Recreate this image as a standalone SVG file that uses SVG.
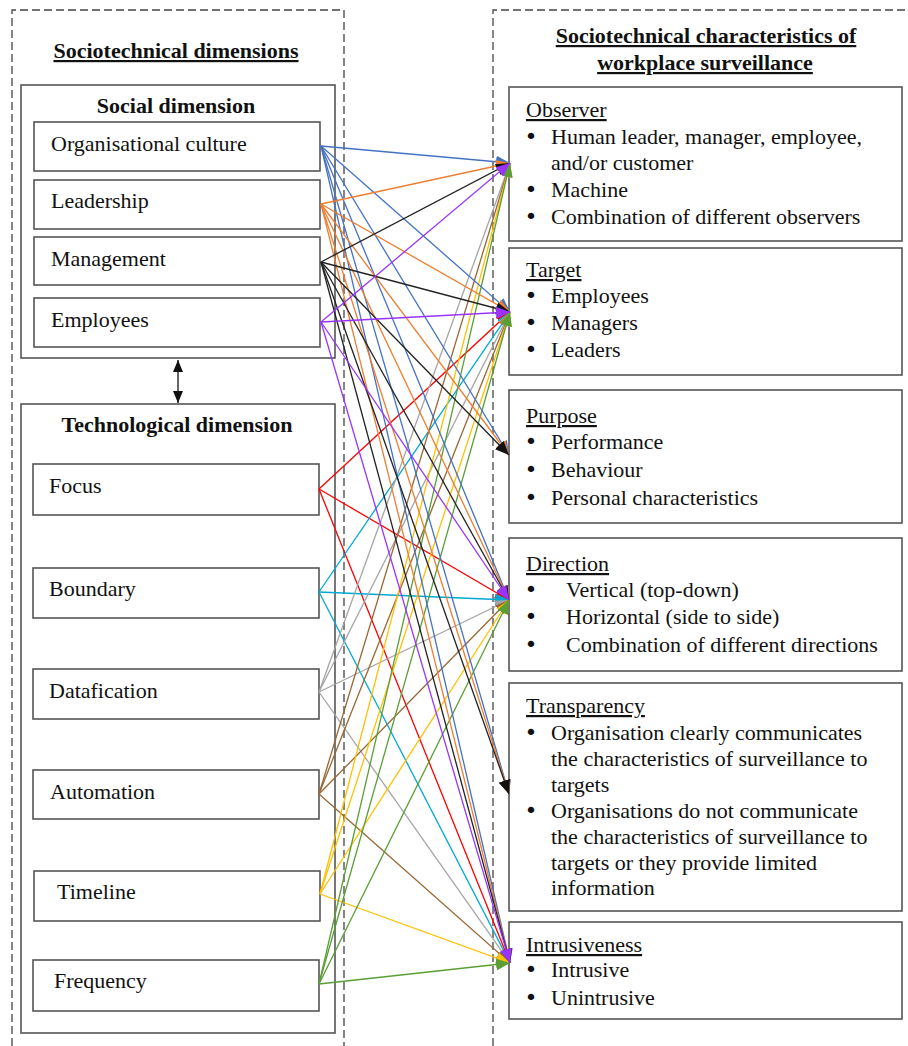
<svg xmlns="http://www.w3.org/2000/svg" width="908" height="1046" viewBox="0 0 908 1046">
<style>
text{font-family:"Liberation Serif","Times New Roman",serif;font-size:22px;fill:#111}
.b{font-weight:bold}
.u{text-decoration:underline}
.c{text-anchor:middle}
.bl{text-anchor:middle;font-family:"DejaVu Sans",sans-serif;font-size:22px}
.dash{fill:none;stroke:#444;stroke-width:1.3;stroke-dasharray:8 4}
.box{fill:#fff;stroke:#555;stroke-width:1.6}
.cn line{stroke-width:1.3;fill:none}
</style>
<defs>
<marker id="m-k" markerUnits="userSpaceOnUse" markerWidth="15" markerHeight="13" refX="14" refY="6" orient="auto"><path d="M0,0 L14,6 L0,12 z" fill="#111"/></marker>
<marker id="m-bl" markerUnits="userSpaceOnUse" markerWidth="15" markerHeight="13" refX="14" refY="6" orient="auto"><path d="M0,0 L14,6 L0,12 z" fill="#4472C4"/></marker>
<marker id="m-or" markerUnits="userSpaceOnUse" markerWidth="15" markerHeight="13" refX="14" refY="6" orient="auto"><path d="M0,0 L14,6 L0,12 z" fill="#ED7D31"/></marker>
<marker id="m-pu" markerUnits="userSpaceOnUse" markerWidth="15" markerHeight="13" refX="14" refY="6" orient="auto"><path d="M0,0 L14,6 L0,12 z" fill="#9933FF"/></marker>
<marker id="m-re" markerUnits="userSpaceOnUse" markerWidth="15" markerHeight="13" refX="14" refY="6" orient="auto"><path d="M0,0 L14,6 L0,12 z" fill="#FF0000"/></marker>
<marker id="m-cy" markerUnits="userSpaceOnUse" markerWidth="15" markerHeight="13" refX="14" refY="6" orient="auto"><path d="M0,0 L14,6 L0,12 z" fill="#00A9D4"/></marker>
<marker id="m-gr" markerUnits="userSpaceOnUse" markerWidth="15" markerHeight="13" refX="14" refY="6" orient="auto"><path d="M0,0 L14,6 L0,12 z" fill="#A5A5A5"/></marker>
<marker id="m-br" markerUnits="userSpaceOnUse" markerWidth="15" markerHeight="13" refX="14" refY="6" orient="auto"><path d="M0,0 L14,6 L0,12 z" fill="#996633"/></marker>
<marker id="m-ye" markerUnits="userSpaceOnUse" markerWidth="15" markerHeight="13" refX="14" refY="6" orient="auto"><path d="M0,0 L14,6 L0,12 z" fill="#FFC000"/></marker>
<marker id="m-gn" markerUnits="userSpaceOnUse" markerWidth="15" markerHeight="13" refX="14" refY="6" orient="auto"><path d="M0,0 L14,6 L0,12 z" fill="#5A9E35"/></marker>
<marker id="m-dk" markerUnits="userSpaceOnUse" markerWidth="13" markerHeight="11" refX="12" refY="5" orient="auto-start-reverse"><path d="M0,0 L12,5 L0,10 z" fill="#111"/></marker>
</defs>
<rect width="908" height="1046" fill="#fff"/>

<path class="dash" d="M12,1046 V10 H344 V1046"/>
<path class="dash" d="M493,1046 V10 H908"/>

<text class="b u c" x="176" y="58">Sociotechnical dimensions</text>
<text class="b u c" x="706" y="43">Sociotechnical characteristics of</text>
<text class="b u c" x="705" y="70">workplace surveillance</text>

<g id="social">
<rect class="box" x="21" y="85" width="314" height="273"/>
<text class="b c" x="176" y="113">Social dimension</text>
</g>
<g id="orgculture"><rect class="box" x="34" y="122" width="286" height="49"/><text x="51" y="151">Organisational culture</text></g>
<g id="leadership"><rect class="box" x="34" y="180" width="286" height="49"/><text x="51" y="208">Leadership</text></g>
<g id="management"><rect class="box" x="34" y="237" width="286" height="48"/><text x="51" y="266">Management</text></g>
<g id="employees"><rect class="box" x="34" y="298" width="286" height="49"/><text x="51" y="327">Employees</text></g>

<g id="technological">
<rect class="box" x="21" y="404" width="314" height="629"/>
<text class="b c" x="177" y="432">Technological dimension</text>
</g>
<g id="focus"><rect class="box" x="33" y="464" width="286" height="51"/><text x="49" y="493">Focus</text></g>
<g id="boundary"><rect class="box" x="33" y="568" width="286" height="50"/><text x="49" y="596">Boundary</text></g>
<g id="datafication"><rect class="box" x="33" y="669" width="286" height="50"/><text x="49" y="698">Datafication</text></g>
<g id="automation"><rect class="box" x="33" y="770" width="286" height="49"/><text x="50" y="799">Automation</text></g>
<g id="timeline"><rect class="box" x="34" y="871" width="286" height="50"/><text x="57" y="899">Timeline</text></g>
<g id="frequency"><rect class="box" x="33" y="960" width="286" height="51"/><text x="54" y="988">Frequency</text></g>

<g id="observer"><rect class="box" x="509" y="87" width="393" height="154"/>
<text class="u" x="526" y="117">Observer</text>
<text class="bl" x="531" y="144">•</text><text x="551" y="144">Human leader, manager, employee,</text>
<text x="551" y="170">and/or customer</text>
<text class="bl" x="531" y="197">•</text><text x="551" y="197">Machine</text>
<text class="bl" x="531" y="224">•</text><text x="551" y="224">Combination of different observers</text>
</g>
<g id="target"><rect class="box" x="509" y="248" width="393" height="127"/>
<text class="u" x="526" y="277">Target</text>
<text class="bl" x="531" y="303">•</text><text x="551" y="303">Employees</text>
<text class="bl" x="531" y="330">•</text><text x="551" y="330">Managers</text>
<text class="bl" x="531" y="357">•</text><text x="551" y="357">Leaders</text>
</g>
<g id="purpose"><rect class="box" x="509" y="390" width="393" height="133"/>
<text class="u" x="526" y="423">Purpose</text>
<text class="bl" x="531" y="449">•</text><text x="551" y="449">Performance</text>
<text class="bl" x="531" y="477">•</text><text x="551" y="477">Behaviour</text>
<text class="bl" x="531" y="505">•</text><text x="551" y="505">Personal characteristics</text>
</g>
<g id="direction"><rect class="box" x="509" y="538" width="393" height="133"/>
<text class="u" x="526" y="571">Direction</text>
<text class="bl" x="531" y="597">•</text><text x="566" y="597">Vertical (top-down)</text>
<text class="bl" x="531" y="624">•</text><text x="566" y="624">Horizontal (side to side)</text>
<text class="bl" x="531" y="652">•</text><text x="566" y="652">Combination of different directions</text>
</g>
<g id="transparency"><rect class="box" x="509" y="683" width="393" height="228"/>
<text class="u" x="526" y="713">Transparency</text>
<text class="bl" x="531" y="740">•</text><text x="551" y="740">Organisation clearly communicates</text>
<text x="551" y="766">the characteristics of surveillance to</text>
<text x="551" y="792">targets</text>
<text class="bl" x="531" y="818">•</text><text x="551" y="818">Organisations do not communicate</text>
<text x="551" y="844">the characteristics of surveillance to</text>
<text x="551" y="870">targets or they provide limited</text>
<text x="551" y="895">information</text>
</g>
<g id="intrusiveness"><rect class="box" x="509" y="922" width="393" height="97"/>
<text class="u" x="526" y="952">Intrusiveness</text>
<text class="bl" x="531" y="977">•</text><text x="551" y="977">Intrusive</text>
<text class="bl" x="531" y="1005">•</text><text x="551" y="1005">Unintrusive</text>
</g>

<g id="connectors" class="cn">
<line x1="178" y1="360" x2="178" y2="403" stroke="#111" stroke-width="1.6" marker-start="url(#m-dk)" marker-end="url(#m-dk)"/>
<g stroke="#FF0000">
<line x1="319" y1="489" x2="510" y2="312" marker-end="url(#m-re)"/>
<line x1="319" y1="489" x2="509" y2="600" marker-end="url(#m-re)"/>
<line x1="319" y1="489" x2="510" y2="963" marker-end="url(#m-re)"/>
</g>
<g stroke="#00A9D4">
<line x1="319" y1="592" x2="510" y2="312" marker-end="url(#m-cy)"/>
<line x1="319" y1="592" x2="509" y2="600" marker-end="url(#m-cy)"/>
<line x1="319" y1="592" x2="510" y2="963" marker-end="url(#m-cy)"/>
</g>
<g stroke="#A5A5A5">
<line x1="319" y1="692" x2="510" y2="163" marker-end="url(#m-gr)"/>
<line x1="319" y1="692" x2="510" y2="312" marker-end="url(#m-gr)"/>
<line x1="319" y1="692" x2="509" y2="600" marker-end="url(#m-gr)"/>
<line x1="319" y1="692" x2="510" y2="963" marker-end="url(#m-gr)"/>
</g>
<g stroke="#996633">
<line x1="319" y1="794" x2="510" y2="163" marker-end="url(#m-br)"/>
<line x1="319" y1="794" x2="510" y2="312" marker-end="url(#m-br)"/>
<line x1="319" y1="794" x2="509" y2="600" marker-end="url(#m-br)"/>
<line x1="319" y1="794" x2="510" y2="963" marker-end="url(#m-br)"/>
</g>
<g stroke="#FFC000">
<line x1="320" y1="894" x2="510" y2="163" marker-end="url(#m-ye)"/>
<line x1="320" y1="894" x2="510" y2="312" marker-end="url(#m-ye)"/>
<line x1="320" y1="894" x2="509" y2="600" marker-end="url(#m-ye)"/>
<line x1="320" y1="894" x2="510" y2="963" marker-end="url(#m-ye)"/>
</g>
<g stroke="#5A9E35">
<line x1="319" y1="984" x2="510" y2="163" marker-end="url(#m-gn)"/>
<line x1="319" y1="984" x2="510" y2="312" marker-end="url(#m-gn)"/>
<line x1="319" y1="984" x2="509" y2="600" marker-end="url(#m-gn)"/>
<line x1="319" y1="984" x2="510" y2="963" marker-end="url(#m-gn)"/>
</g>
<g stroke="#4472C4">
<line x1="321" y1="146" x2="510" y2="163" marker-end="url(#m-bl)"/>
<line x1="321" y1="146" x2="510" y2="312" marker-end="url(#m-bl)"/>
<line x1="321" y1="146" x2="509" y2="455" marker-end="url(#m-bl)"/>
<line x1="321" y1="146" x2="509" y2="600" marker-end="url(#m-bl)"/>
<line x1="321" y1="146" x2="509" y2="794" marker-end="url(#m-bl)"/>
<line x1="321" y1="146" x2="510" y2="963" marker-end="url(#m-bl)"/>
</g>
<g stroke="#ED7D31">
<line x1="321" y1="204" x2="510" y2="163" marker-end="url(#m-or)"/>
<line x1="321" y1="204" x2="510" y2="312" marker-end="url(#m-or)"/>
<line x1="321" y1="204" x2="509" y2="455" marker-end="url(#m-or)"/>
<line x1="321" y1="204" x2="509" y2="600" marker-end="url(#m-or)"/>
<line x1="321" y1="204" x2="509" y2="794" marker-end="url(#m-or)"/>
<line x1="321" y1="204" x2="510" y2="963" marker-end="url(#m-or)"/>
</g>
<g stroke="#222">
<line x1="321" y1="262" x2="510" y2="163" marker-end="url(#m-k)"/>
<line x1="321" y1="262" x2="510" y2="312" marker-end="url(#m-k)"/>
<line x1="321" y1="262" x2="509" y2="455" marker-end="url(#m-k)"/>
<line x1="321" y1="262" x2="509" y2="600" marker-end="url(#m-k)"/>
<line x1="321" y1="262" x2="509" y2="794" marker-end="url(#m-k)"/>
<line x1="321" y1="262" x2="510" y2="963" marker-end="url(#m-k)"/>
</g>
<g stroke="#9933FF">
<line x1="321" y1="322" x2="510" y2="163" marker-end="url(#m-pu)"/>
<line x1="321" y1="322" x2="510" y2="312" marker-end="url(#m-pu)"/>
<line x1="321" y1="322" x2="509" y2="600" marker-end="url(#m-pu)"/>
<line x1="321" y1="322" x2="510" y2="963" marker-end="url(#m-pu)"/>
</g>
</g>
</svg>
